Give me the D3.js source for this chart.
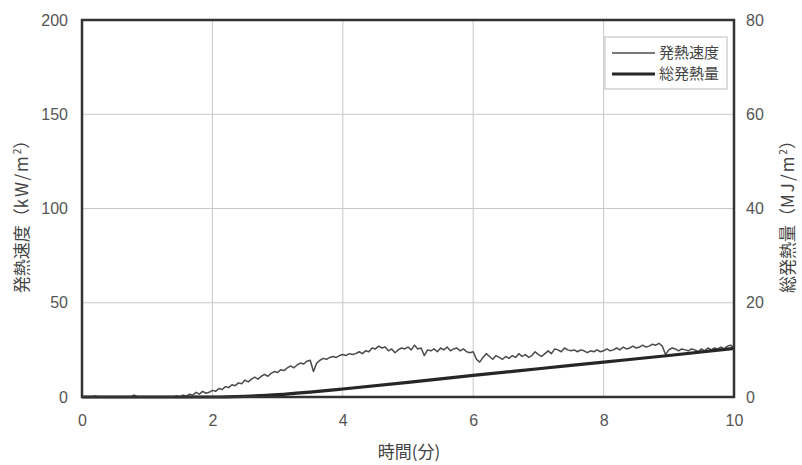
<!DOCTYPE html>
<html>
<head>
<meta charset="utf-8">
<script src="https://cdn.jsdelivr.net/npm/d3@7/dist/d3.min.js"></script>
<style>
  html, body { margin: 0; padding: 0; background: #fff; }
  svg { display: block; }
  .tick-label { font-family: "Liberation Sans", Arial, sans-serif; font-size: 16px; fill: #555; }
  .title { font-family: "Noto Sans CJK JP", sans-serif; font-size: 17px; fill: #444; }
  .legend-text { font-family: "Noto Sans CJK JP", sans-serif; font-size: 15px; fill: #444; }
</style>
</head>
<body>
<svg id="chart" width="802" height="465"></svg>
<script>
// Sampling interval of the heat release rate record (minutes)
const sampleStep = 0.05;

// Heat release rate (kW/m²), one value every 0.05 min from 0 to 10 min
const heatReleaseRate = [
  0, 0, 0, 0, 0.5, 0, 0, 0, 0, 0,           // 0.00 - 0.45
  0, 0, 0, 0, 0, 0, 1, 0, 0, 0,             // 0.50 - 0.95
  0, 0, 0, 0, 0, 0, 0, 0, 0, 0.5,           // 1.00 - 1.45
  0, 1, 0.5, 1.5, 1, 2.5, 1.5, 3, 2, 2.5,   // 1.50 - 1.95
  3.5, 3, 4.5, 4, 5.5, 5, 6.5, 6, 7.5, 7,   // 2.00 - 2.45
  9, 8, 9.5, 10.5, 9.5, 11, 12, 11, 12.5, 13.5,       // 2.50 - 2.95
  13, 14.5, 14, 15.5, 16.5, 15.5, 17, 18, 17.5, 19,   // 3.00 - 3.45
  19.5, 13.5, 18, 19.5, 20.5, 20, 21, 21.5, 21, 22,   // 3.50 - 3.95
  22.5, 22, 23, 22.5, 23, 24, 23, 24.5, 24, 26,       // 4.00 - 4.45
  25.5, 27, 26, 26.5, 24.5, 25.5, 23.5, 25, 26, 25.5, // 4.50 - 4.95
  26.5, 25, 27.5, 25.5, 26, 22, 25, 24.5, 25.5, 24,   // 5.00 - 5.45
  26, 25, 26.5, 24.5, 25.5, 26, 24.5, 25.5, 24, 23.5, // 5.50 - 5.95
  24, 20, 18.5, 21, 23, 21.5, 20, 22, 21, 20,         // 6.00 - 6.45
  21.5, 20.5, 22, 21, 23, 21.5, 22.5, 21, 22, 24,     // 6.50 - 6.95
  22.5, 21.5, 23, 24.5, 23, 25.5, 25, 24, 26, 25,     // 7.00 - 7.45
  24.5, 25, 24, 25, 24.5, 23.5, 24.5, 24, 25, 24,     // 7.50 - 7.95
  24.5, 25.5, 24.5, 25, 26, 25, 26.5, 25.5, 26, 27,   // 8.00 - 8.45
  26, 26.5, 27.5, 26.5, 27, 28, 27.5, 28.5, 27, 22.5, // 8.50 - 8.95
  25, 26, 25.5, 24.5, 25.5, 25, 24.5, 25.5, 25, 24,   // 9.00 - 9.45
  25.5, 24.5, 26, 25, 26, 25.5, 26.5, 25.5, 27, 27.5, // 9.50 - 9.95
  26                                                  // 10.00
];

// Total heat release (MJ/m²) at selected times (min)
const totalTimes = [0, 1, 2, 2.5, 3, 3.5, 4, 5, 6, 7, 8, 9, 10];
const totalHeat  = [0, 0, 0, 0.15, 0.5, 1.05, 1.7, 3.1, 4.6, 6.0, 7.4, 8.8, 10.3];

// Axis ticks
const xTicks = [0, 2, 4, 6, 8, 10];
const yLeftTicks = [0, 50, 100, 150, 200];
const yRightTicks = [0, 20, 40, 60, 80];

// Legend labels
const legendLabels = ["発熱速度", "総発熱量"];

const svg = d3.select("#chart");
const plot = { left: 82, right: 734, top: 20, bottom: 397 };

const x = d3.scaleLinear().domain([0, 10]).range([plot.left, plot.right]);
const yL = d3.scaleLinear().domain([0, 200]).range([plot.bottom, plot.top]);
const yR = d3.scaleLinear().domain([0, 80]).range([plot.bottom, plot.top]);

// Gridlines
const grid = svg.append("g");
grid.selectAll("line.v").data(xTicks.slice(1, -1)).join("line")
  .attr("x1", d => x(d)).attr("x2", d => x(d))
  .attr("y1", plot.top).attr("y2", plot.bottom)
  .attr("stroke", "#c8c8c8").attr("stroke-width", 1);
grid.selectAll("line.h").data(yLeftTicks.slice(1, -1)).join("line")
  .attr("x1", plot.left).attr("x2", plot.right)
  .attr("y1", d => yL(d)).attr("y2", d => yL(d))
  .attr("stroke", "#c8c8c8").attr("stroke-width", 1);

// Axes (labels only; the frame is drawn separately)
const xAxis = svg.append("g")
  .attr("transform", `translate(0,${plot.bottom})`)
  .call(d3.axisBottom(x).tickValues(xTicks).tickSize(0).tickPadding(18).tickFormat(d3.format("d")));
const yAxisL = svg.append("g")
  .attr("transform", `translate(${plot.left},0)`)
  .call(d3.axisLeft(yL).tickValues(yLeftTicks).tickSize(0).tickPadding(14).tickFormat(d3.format("d")));
const yAxisR = svg.append("g")
  .attr("transform", `translate(${plot.right},0)`)
  .call(d3.axisRight(yR).tickValues(yRightTicks).tickSize(0).tickPadding(12).tickFormat(d3.format("d")));
[xAxis, yAxisL, yAxisR].forEach(g => {
  g.select(".domain").remove();
  g.selectAll("text").attr("class", "tick-label").attr("fill", null);
});

// Heat release rate line
const hrrData = heatReleaseRate.map((v, i) => ({ t: i * sampleStep, v }));
svg.append("path")
  .datum(hrrData)
  .attr("fill", "none")
  .attr("stroke", "#4a4a4a")
  .attr("stroke-width", 1.5)
  .attr("stroke-linejoin", "round")
  .attr("d", d3.line().x(d => x(d.t)).y(d => yL(d.v)));

// Total heat release line
const thrData = totalTimes.map((t, i) => ({ t, v: totalHeat[i] }));
svg.append("path")
  .datum(thrData)
  .attr("fill", "none")
  .attr("stroke", "#262626")
  .attr("stroke-width", 3.2)
  .attr("d", d3.line().x(d => x(d.t)).y(d => yR(d.v)).curve(d3.curveMonotoneX));

// Plot frame
svg.append("rect")
  .attr("x", plot.left).attr("y", plot.top)
  .attr("width", plot.right - plot.left).attr("height", plot.bottom - plot.top)
  .attr("fill", "none").attr("stroke", "#333").attr("stroke-width", 2.5);

// Axis titles
svg.append("text").attr("class", "title")
  .attr("x", (plot.left + plot.right) / 2 + 1).attr("y", 458)
  .attr("text-anchor", "middle")
  .text("時間(分)");

function unitTitle(cx, lead, unit) {
  const t = svg.append("text").attr("class", "title")
    .attr("text-anchor", "middle")
    .attr("font-size", 18)
    .attr("transform", `translate(${cx},${(plot.top + plot.bottom) / 2 + 4}) rotate(-90)`);
  t.append("tspan").text(lead + "（");
  t.append("tspan").attr("letter-spacing", 2).text(unit);
  t.append("tspan").attr("dy", -7).attr("font-size", 10).text("2");
  t.append("tspan").attr("dy", 7).text("）");
}
unitTitle(28, "発熱速度", "kW/m");
unitTitle(794, "総発熱量", "MJ/m");

// Legend
const legend = svg.append("g");
legend.append("rect")
  .attr("x", 605).attr("y", 37).attr("width", 122).attr("height", 52)
  .attr("fill", "#fff").attr("stroke", "#bbb").attr("stroke-width", 1);
const legendStyles = [
  { stroke: "#4a4a4a", width: 1.5 },
  { stroke: "#262626", width: 3.2 }
];
legendLabels.forEach((label, i) => {
  const cy = 53 + i * 21;
  legend.append("line")
    .attr("x1", 612).attr("x2", 655).attr("y1", cy).attr("y2", cy)
    .attr("stroke", legendStyles[i].stroke).attr("stroke-width", legendStyles[i].width);
  legend.append("text").attr("class", "legend-text")
    .attr("x", 659).attr("y", cy + 5).text(label);
});
</script>
</body>
</html>
